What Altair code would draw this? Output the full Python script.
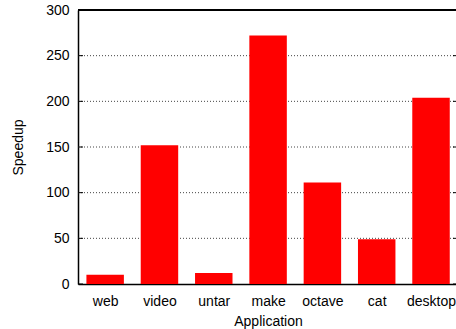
import altair as alt
import pandas as pd

apps = ["web", "video", "untar", "make", "octave", "cat", "desktop"]
speedup = [10, 152, 12, 272, 111, 49, 204]
y_ticks = [0, 50, 100, 150, 200, 250, 300]
grid_vals = [50, 100, 150, 200, 250]

df = pd.DataFrame({"app": apps, "speedup": speedup, "idx": list(range(len(apps)))})
ticks_df = pd.DataFrame({"v": y_ticks})
grid_df = pd.DataFrame({"v": grid_vals})

W, H = 378, 274
FONT = "Liberation Sans"

label_expr = "[" + ",".join(f"'{a}'" for a in apps) + "][datum.value]"

xscale = alt.Scale(domain=[-0.5, 6.46], nice=False, zero=False, padding=0)
yscale = alt.Scale(domain=[0, 300], nice=False, padding=0)

grid = alt.Chart(grid_df).mark_rule(color="#444444", strokeDash=[1, 2], strokeWidth=1).encode(
    y=alt.Y("v:Q", scale=yscale),
    x=alt.value(0), x2=alt.value(W),
)

bars = alt.Chart(df).transform_calculate(
    x0="datum.idx - 0.345", x1="datum.idx + 0.345", zero="0"
).mark_rect(color="#ff0000").encode(
    x=alt.X("x0:Q", scale=xscale,
            axis=alt.Axis(values=list(range(len(apps))), labelExpr=label_expr,
                          title="Application", ticks=False, grid=False,
                          domainColor="black", domainWidth=1.5,
                          labelPadding=10, labelFontSize=14, labelFont=FONT,
                          labelColor="black", titleFontSize=14, titleFont=FONT,
                          titleFontWeight="normal", titleColor="black",
                          titleBaseline="alphabetic", titleY=41, titleX=190)),
    x2="x1:Q",
    y=alt.Y("speedup:Q", scale=yscale,
            axis=alt.Axis(values=y_ticks, title="Speedup", ticks=False, grid=False,
                          domainColor="black", domainWidth=1.5,
                          labelPadding=9, labelFontSize=14, labelFont=FONT,
                          labelColor="black", titleFontSize=14, titleFont=FONT,
                          titleFontWeight="normal", titleColor="black",
                          titleX=-60, titleY=H / 2, titleAngle=270,
                          titleAlign="center", titleBaseline="middle")),
    y2="zero:Q",
)

left_ticks = alt.Chart(ticks_df).mark_rule(color="black", strokeWidth=1).encode(
    y=alt.Y("v:Q", scale=yscale), x=alt.value(0), x2=alt.value(5)
)
right_ticks = alt.Chart(ticks_df).mark_rule(color="black", strokeWidth=1).encode(
    y=alt.Y("v:Q", scale=yscale), x=alt.value(W - 3), x2=alt.value(W)
)
top_border = alt.Chart(ticks_df).mark_rule(color="black", strokeWidth=1.5).encode(
    y=alt.value(0), x=alt.value(0), x2=alt.value(W)
)

chart = alt.layer(grid, bars, left_ticks, right_ticks, top_border).properties(
    width=W, height=H,
    autosize=alt.AutoSizeParams(type="none"),
    padding={"left": 78, "top": 10, "right": 0, "bottom": 45},
    background="white",
).configure_view(stroke=None)

chart.save("out.html", embed_options={"renderer": "svg", "actions": False})
